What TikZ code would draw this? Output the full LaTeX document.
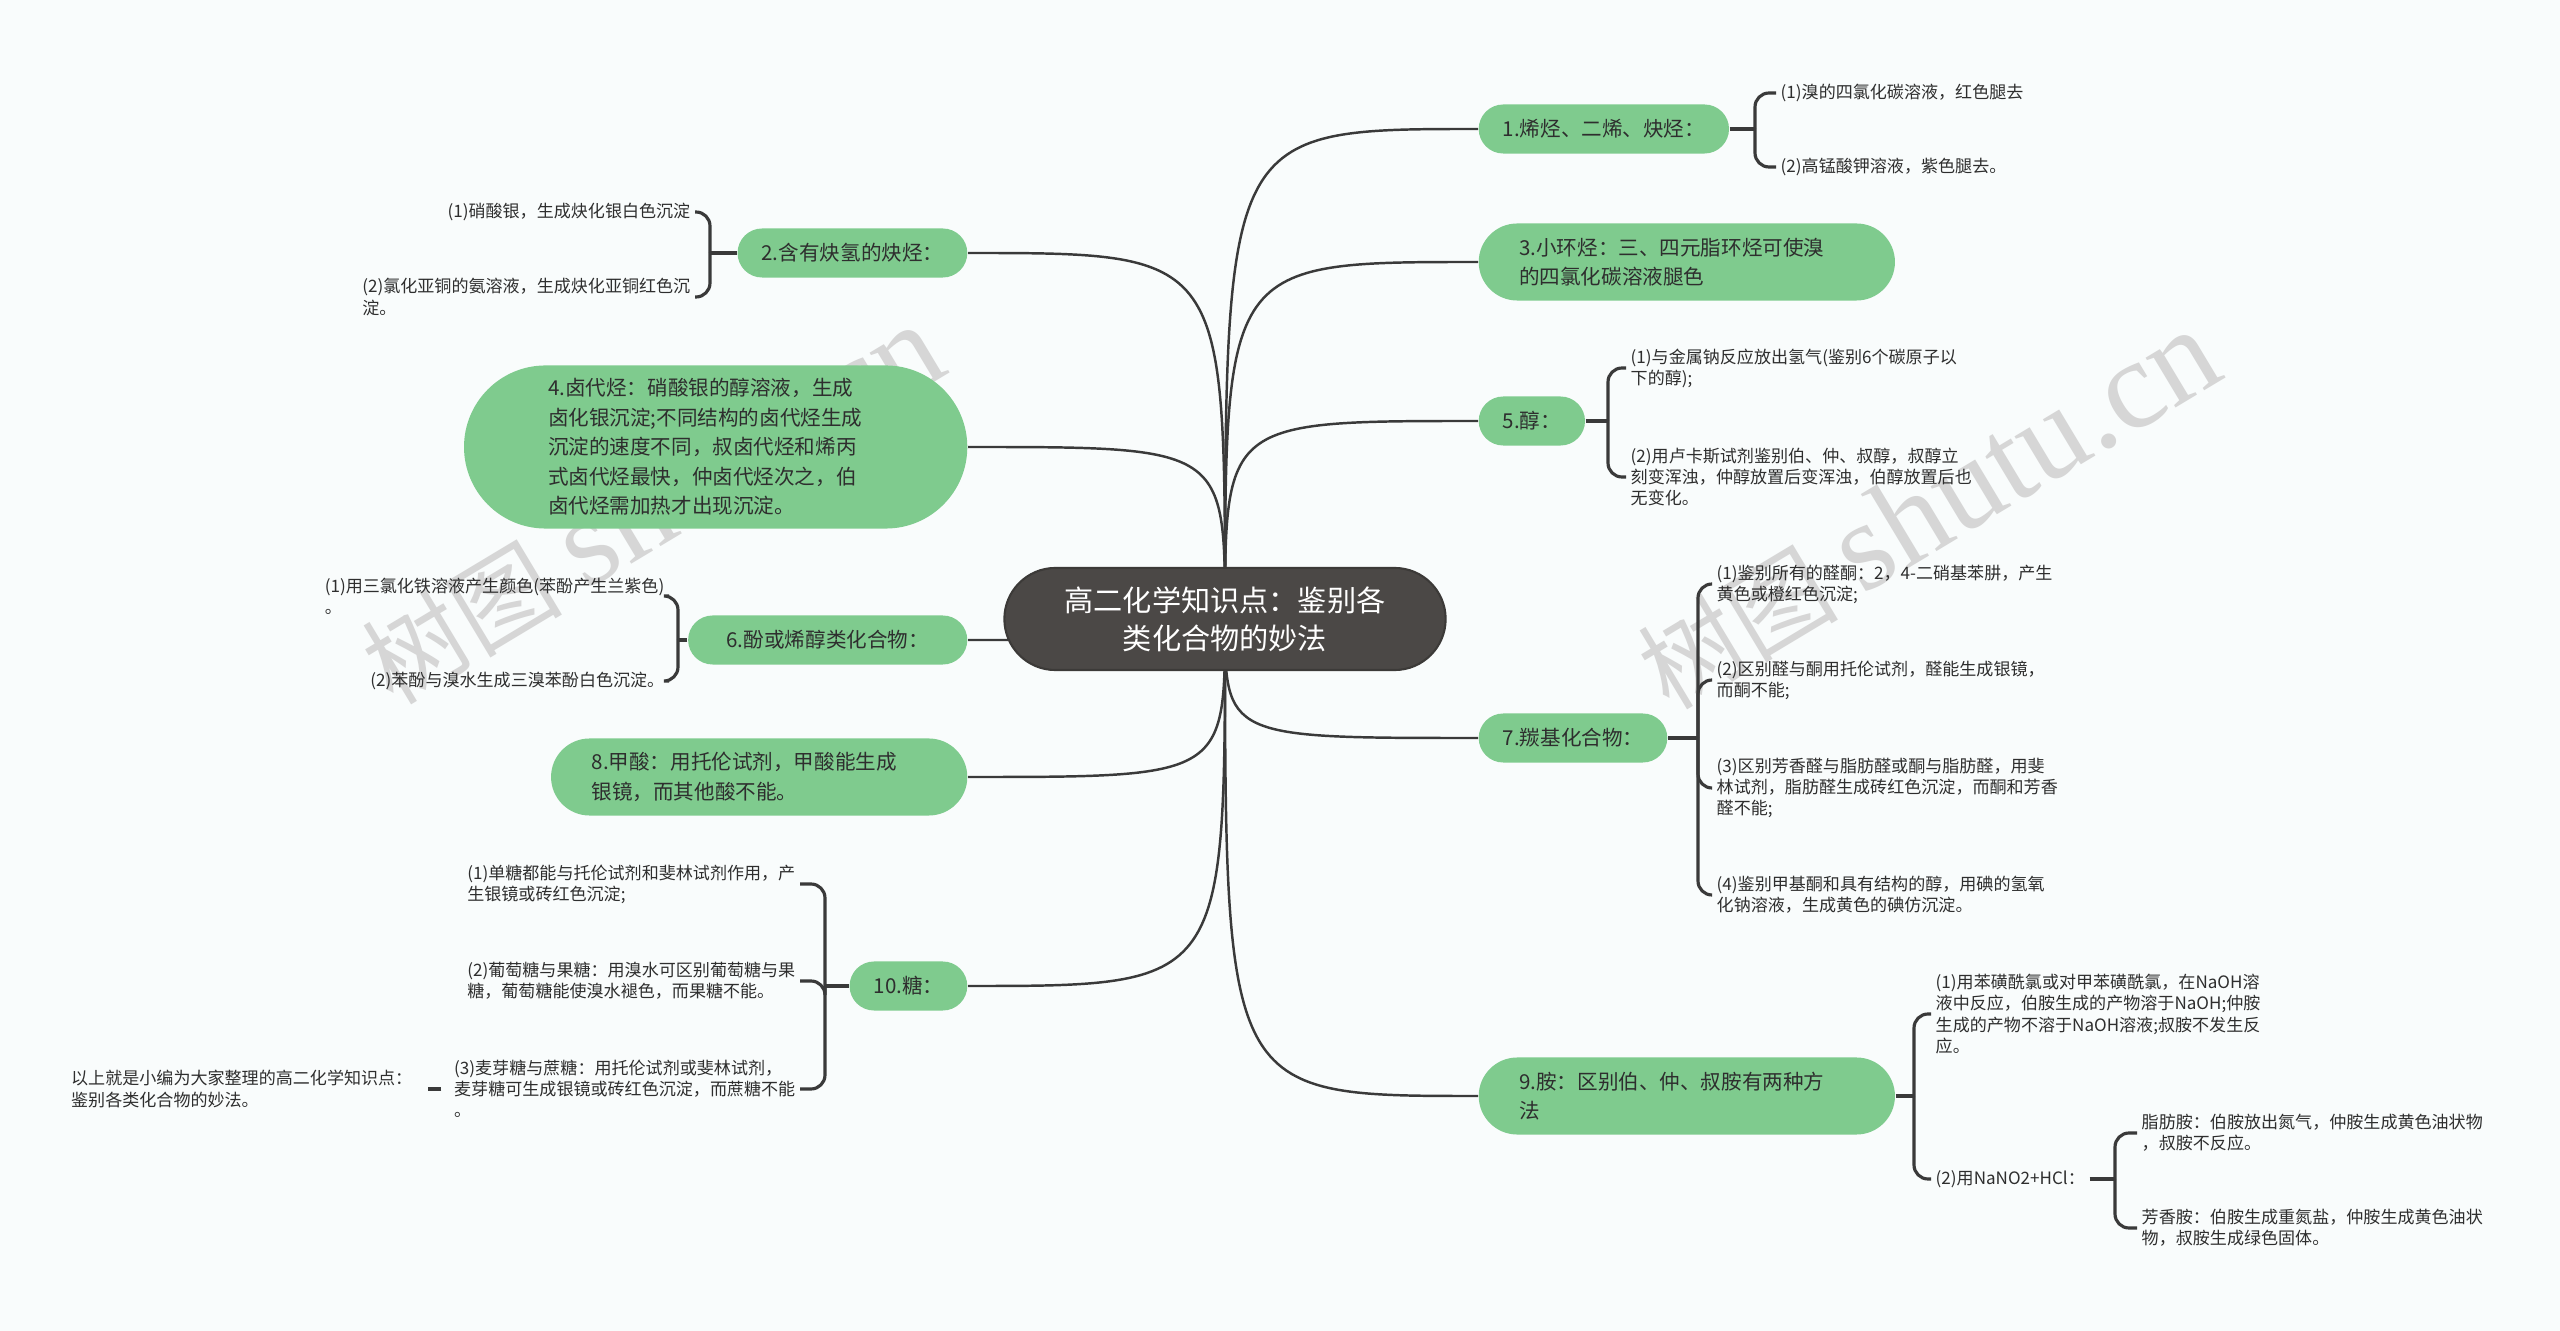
\documentclass[tikz,border=0pt]{standalone}
\usepackage{fontspec}
\setmainfont{Noto Sans CJK SC}
\newfontfamily\wmfont{Liberation Serif}
\usetikzlibrary{backgrounds}

\definecolor{pagebg}{HTML}{F9FCFC}
\definecolor{topicgreen}{HTML}{7FCB8E}
\definecolor{rootgray}{HTML}{4B4846}
\definecolor{linegray}{HTML}{3A3A3A}
\definecolor{inkgray}{HTML}{2E2E2E}
\definecolor{wmgray}{HTML}{D6D6D6}

\tikzset{
  root/.style={fill=rootgray, draw=rootgray!80!black, line width=0.6pt,
    rounded corners=0.51cm, minimum width=4.41cm, minimum height=1.02cm,
    text=white, align=center, font=\fontsize{8.3}{10.7}\selectfont},
  topic/.style={fill=topicgreen, rounded corners=0.245cm, minimum height=0.49cm,
    inner xsep=0.24cm, inner ysep=0pt, text=inkgray, align=left,
    font=\fontsize{5.85}{8.4}\selectfont},
  longtopic/.style={topic, rounded corners=0.385cm, minimum height=0.77cm,
    text width=3.35cm, inner xsep=0.405cm},
  leaf/.style={text=inkgray, align=left, inner sep=0.04cm,
    font=\fontsize{4.85}{6}\selectfont},
  link/.style={linegray, line width=0.7pt},
  brace/.style={linegray, line width=0.9pt, rounded corners=0.14cm},
  wmtext/.style={text=wmgray, rotate=31, inner sep=0pt}
}

\begin{document}
\begin{tikzpicture}[x=0.01cm,y=-0.01cm]
\useasboundingbox (0,0) rectangle (2560,1331);

% centre
\node[root] (root) at (1225,619) {高二化学知识点：鉴别各\\类化合物的妙法};

% right topics
\node[topic, anchor=west] (b1) at (1478,129) {1.烯烃、二烯、炔烃：};
\node[longtopic, anchor=west] (b3) at (1478,262) {3.小环烃：三、四元脂环烃可使溴\\的四氯化碳溶液腿色};
\node[topic, anchor=west] (b5) at (1478,421) {5.醇：};
\node[topic, anchor=west] (b7) at (1478,738) {7.羰基化合物：};
\node[longtopic, anchor=west] (b9) at (1478,1096) {9.胺：区别伯、仲、叔胺有两种方\\法};

% left topics
\node[topic, anchor=east] (b2) at (968,253) {2.含有炔氢的炔烃：};
\node[longtopic, anchor=east, rounded corners=0.815cm, minimum height=1.63cm,
  inner xsep=0.84cm] (b4) at (968,447) {4.卤代烃：硝酸银的醇溶液，生成\\卤化银沉淀;不同结构的卤代烃生成\\沉淀的速度不同，叔卤代烃和烯丙\\式卤代烃最快，仲卤代烃次之，伯\\卤代烃需加热才出现沉淀。};
\node[topic, anchor=east, minimum width=2.79cm] (b6) at (968,640) {6.酚或烯醇类化合物：};
\node[longtopic, anchor=east] (b8) at (968,777) {8.甲酸：用托伦试剂，甲酸能生成\\银镜，而其他酸不能。};
\node[topic, anchor=east] (b10) at (968,986) {10.糖：};

% leaves
\node[leaf, anchor=west] (l1a) at (1776,93) {(1)溴的四氯化碳溶液，红色腿去};
\node[leaf, anchor=west] (l1b) at (1776,167) {(2)高锰酸钾溶液，紫色腿去。};

\node[leaf, anchor=east] (l2a) at (695,212) {(1)硝酸银，生成炔化银白色沉淀};
\node[leaf, anchor=east] (l2b) at (695,297) {(2)氯化亚铜的氨溶液，生成炔化亚铜红色沉\\淀。};

\node[leaf, anchor=west] (l5a) at (1626,368) {(1)与金属钠反应放出氢气(鉴别6个碳原子以\\下的醇);};
\node[leaf, anchor=west] (l5b) at (1626,477) {(2)用卢卡斯试剂鉴别伯、仲、叔醇，叔醇立\\刻变浑浊，仲醇放置后变浑浊，伯醇放置后也\\无变化。};

\node[leaf, anchor=east] (l6a) at (669,596) {(1)用三氯化铁溶液产生颜色(苯酚产生兰紫色)\\。};
\node[leaf, anchor=east] (l6b) at (669,681) {(2)苯酚与溴水生成三溴苯酚白色沉淀。};

\node[leaf, anchor=west] (l7a) at (1712,584) {(1)鉴别所有的醛酮：2，4-二硝基苯肼，产生\\黄色或橙红色沉淀;};
\node[leaf, anchor=west] (l7b) at (1712,680) {(2)区别醛与酮用托伦试剂，醛能生成银镜，\\而酮不能;};
\node[leaf, anchor=west] (l7c) at (1712,788) {(3)区别芳香醛与脂肪醛或酮与脂肪醛，用斐\\林试剂，脂肪醛生成砖红色沉淀，而酮和芳香\\醛不能;};
\node[leaf, anchor=west] (l7d) at (1712,895) {(4)鉴别甲基酮和具有结构的醇，用碘的氢氧\\化钠溶液，生成黄色的碘仿沉淀。};

\node[leaf, anchor=west] (l9a) at (1931,1014) {(1)用苯磺酰氯或对甲苯磺酰氯，在NaOH溶\\液中反应，伯胺生成的产物溶于NaOH;仲胺\\生成的产物不溶于NaOH溶液;叔胺不发生反\\应。};
\node[leaf, anchor=west] (l9b) at (1931,1179) {(2)用NaNO2+HCl：};
\node[leaf, anchor=west] (l9c) at (2137,1133) {脂肪胺：伯胺放出氮气，仲胺生成黄色油状物\\，叔胺不反应。};
\node[leaf, anchor=west] (l9d) at (2137,1228) {芳香胺：伯胺生成重氮盐，仲胺生成黄色油状\\物，叔胺生成绿色固体。};

\node[leaf, anchor=east] (l10a) at (800,884) {(1)单糖都能与托伦试剂和斐林试剂作用，产\\生银镜或砖红色沉淀;};
\node[leaf, anchor=east] (l10b) at (800,981) {(2)葡萄糖与果糖：用溴水可区别葡萄糖与果\\糖，葡萄糖能使溴水褪色，而果糖不能。};
\node[leaf, anchor=east] (l10c) at (800,1089) {(3)麦芽糖与蔗糖：用托伦试剂或斐林试剂，\\麦芽糖可生成银镜或砖红色沉淀，而蔗糖不能\\。};
\node[leaf, anchor=east] (tail) at (417,1089) {以上就是小编为大家整理的高二化学知识点：\\鉴别各类化合物的妙法。};

% brace junctions
\coordinate (j1) at (1755,129);
\coordinate (j2) at (710,253);
\coordinate (j5) at (1608,421);
\coordinate (j6) at (678,640);
\coordinate (j7) at (1698,738);
\coordinate (j9) at (1914,1096);
\coordinate (j9s) at (2115,1179);
\coordinate (j10) at (825,986);

\draw[brace] (b1.east) -- (j1);
\foreach \l in {l1a,l1b} \draw[brace] (j1) |- (\l.west);
\draw[brace] (b2.west) -- (j2);
\foreach \l in {l2a,l2b} \draw[brace] (j2) |- (\l.east);
\draw[brace] (b5.east) -- (j5);
\foreach \l in {l5a,l5b} \draw[brace] (j5) |- (\l.west);
\draw[brace] (b6.west) -- (j6);
\foreach \l in {l6a,l6b} \draw[brace] (j6) |- (\l.east);
\draw[brace] (b7.east) -- (j7);
\foreach \l in {l7a,l7b,l7c,l7d} \draw[brace] (j7) |- (\l.west);
\draw[brace] (b9.east) -- (j9);
\foreach \l in {l9a,l9b} \draw[brace] (j9) |- (\l.west);
\draw[brace] (l9b.east) -- (j9s);
\foreach \l in {l9c,l9d} \draw[brace] (j9s) |- (\l.west);
\draw[brace] (b10.west) -- (j10);
\foreach \l in {l10a,l10b,l10c} \draw[brace] (j10) |- (\l.east);
\draw[brace] ([xshift=-0.08cm]l10c.west) -- ([xshift=0.11cm]tail.east);

\begin{scope}[on background layer]
  \fill[pagebg] (0,0) rectangle (2560,1331);
  \node[wmtext] (wm1) at (652,505) {\fontsize{28.5}{28.5}\selectfont 树图\hspace{0.25em}\wmfont\fontsize{36}{36}\selectfont shutu.cn};
  \node[wmtext] (wm2) at (1928,510) {\fontsize{28.5}{28.5}\selectfont 树图\hspace{0.25em}\wmfont\fontsize{36}{36}\selectfont shutu.cn};
  % curved links from the centre
  \foreach \t in {b1,b3,b5,b7,b9}
    \draw[link] (root.center) .. controls (root.center |- \t.west) .. (\t.west);
  \foreach \t in {b2,b4,b6,b8,b10}
    \draw[link] (root.center) .. controls (root.center |- \t.east) .. (\t.east);
\end{scope}
\end{tikzpicture}
\end{document}
